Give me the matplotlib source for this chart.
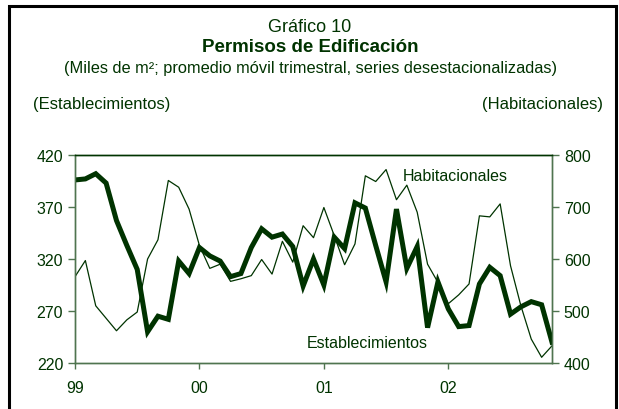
import numpy as np
import matplotlib
matplotlib.use("Agg")
import matplotlib.pyplot as plt
from matplotlib.patches import Rectangle

plt.rcParams["font.family"] = ["Liberation Sans", "DejaVu Sans"]

# ── datos (ene-99 a nov-02, mensual) ─────────────────────────────
establecimientos = [396, 397, 402, 393, 357, 333, 310, 250, 265, 262, 318, 306,
                    331, 323, 318, 303, 306, 331, 349, 341, 344, 332, 294, 320,
                    295, 341, 330, 374, 369, 333, 298, 368, 311, 332, 254, 298,
                    272, 255, 256, 296, 312, 304, 267, 274, 279, 276, 240]
habitacionales = [566, 597, 510, 486, 462, 483, 498, 600, 637, 751, 738, 696,
                  626, 582, 590, 557, 562, 568, 599, 571, 634, 594, 664, 641,
                  699, 645, 589, 629, 760, 749, 772, 714, 742, 690, 590, 555,
                  514, 531, 552, 683, 681, 706, 587, 510, 446, 411, 433]
year_ticks = [0, 12, 24, 36]
year_labels = ["99", "00", "01", "02"]

GREEN = "#003300"
SPINE = "#4f744f"
W, H = 619, 410

fig = plt.figure(figsize=(W / 100, H / 100), dpi=100)
ax = fig.add_axes([75 / W, 1 - 364 / H, (552 - 75) / W, (364 - 156) / H])
ax2 = ax.twinx()

x = np.arange(len(establecimientos))
ax2.plot(x, habitacionales, color=GREEN, lw=0.9)
ax.plot(x, establecimientos, color=GREEN, lw=3.6, solid_joinstyle="miter")
ax.set_zorder(ax2.get_zorder() + 1); ax.patch.set_visible(False)

ax.set_xlim(0, len(x) - 1)
ax.set_ylim(220, 420); ax.set_yticks(range(220, 421, 50))
ax2.set_ylim(400, 800); ax2.set_yticks(range(400, 801, 100))
ax.set_xticks(year_ticks); ax.set_xticklabels(year_labels)

for a in (ax, ax2):
    for s in a.spines.values():
        s.set_color(SPINE); s.set_linewidth(1)
    a.spines["top"].set_color(GREEN)
    a.tick_params(colors=SPINE, labelcolor=GREEN, labelsize=11.5, length=5, width=1)
ax.tick_params(axis="x", length=4, pad=8)

ax.text(0.688, 0.90, "Habitacionales", transform=ax.transAxes, va="center", color=GREEN, fontsize=11.5)
ax.text(0.485, 0.10, "Establecimientos", transform=ax.transAxes, va="center", color=GREEN, fontsize=11.5)

fig.text(310 / W, 1 - 27 / H, "Gráfico 10", ha="center", va="center", color=GREEN, fontsize=13)
fig.text(310 / W, 1 - 48 / H, "Permisos de Edificación", ha="center", va="center",
         color=GREEN, fontsize=13.5, fontweight="bold")
fig.text(310 / W, 1 - 69 / H, "(Miles de m²; promedio móvil trimestral, series desestacionalizadas)",
         ha="center", va="center", color=GREEN, fontsize=11.8)
fig.text(33 / W, 1 - 105 / H, "(Establecimientos)", ha="left", va="center", color=GREEN, fontsize=12)
fig.text(603 / W, 1 - 105 / H, "(Habitacionales)", ha="right", va="center", color=GREEN, fontsize=12)

# marco negro
fig.patches.append(Rectangle((9 / W, -0.05), (616 - 9) / W, 1.05 - 7 / H, transform=fig.transFigure,
                             fill=False, edgecolor="black", lw=2.2))

fig.savefig("out.png", dpi=100)
